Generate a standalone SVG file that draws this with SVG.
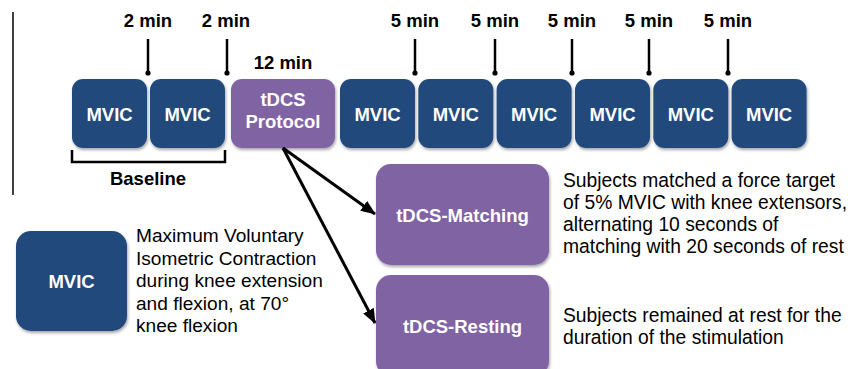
<svg xmlns="http://www.w3.org/2000/svg" width="848" height="369" viewBox="0 0 848 369">
<defs>
<filter id="sh" x="-10%" y="-10%" width="130%" height="130%">
<feDropShadow dx="1" dy="2" stdDeviation="1.5" flood-color="#000" flood-opacity="0.35"/>
</filter>
<marker id="ah" markerWidth="15" markerHeight="12" refX="14" refY="6" orient="auto" markerUnits="userSpaceOnUse" viewBox="0 0 15 12">
<path d="M0,0 L15,6 L0,12 Z" fill="#000"/>
</marker>
</defs>
<style>
.blue{fill:#214A7C;filter:url(#sh)}
.purple{fill:#8064A2;filter:url(#sh)}
.bt{font-family:"Liberation Sans",Arial,sans-serif;font-weight:bold;font-size:18.5px;fill:#fff;text-anchor:middle}
.lab{font-family:"Liberation Sans",Arial,sans-serif;font-weight:bold;font-size:18.5px;fill:#000;text-anchor:middle}
.desc{font-family:"Liberation Sans",Arial,sans-serif;font-size:19.3px;fill:#000}
.ldesc{font-family:"Liberation Sans",Arial,sans-serif;font-size:19.1px;fill:#000}
.tick{stroke:#000;stroke-width:2.5;fill:none}
.conn{stroke:#000;stroke-width:3;fill:none}
</style>
<rect width="848" height="369" fill="#fff"/>
<line x1="13" y1="12" x2="13" y2="195" stroke="#000" stroke-width="1.5"/>

<g id="timeline-labels">
<text class="lab" x="148" y="27">2 min</text>
<text class="lab" x="226" y="27">2 min</text>
<text class="lab" x="283" y="69">12 min</text>
<text class="lab" x="415" y="27">5 min</text>
<text class="lab" x="495" y="27">5 min</text>
<text class="lab" x="572" y="27">5 min</text>
<text class="lab" x="649" y="27">5 min</text>
<text class="lab" x="728" y="27">5 min</text>
</g>

<g id="ticks">
<line class="tick" x1="148" y1="39" x2="148" y2="72"/><circle cx="148" cy="73" r="2.6"/>
<line class="tick" x1="227" y1="39" x2="227" y2="72"/><circle cx="227" cy="73" r="2.6"/>
<line class="tick" x1="415" y1="39" x2="415" y2="72"/><circle cx="415" cy="73" r="2.6"/>
<line class="tick" x1="495" y1="39" x2="495" y2="72"/><circle cx="495" cy="73" r="2.6"/>
<line class="tick" x1="572" y1="39" x2="572" y2="72"/><circle cx="572" cy="73" r="2.6"/>
<line class="tick" x1="649" y1="39" x2="649" y2="72"/><circle cx="649" cy="73" r="2.6"/>
<line class="tick" x1="728" y1="39" x2="728" y2="72"/><circle cx="728" cy="73" r="2.6"/>
</g>

<g id="mvic1"><rect class="blue" x="72" y="79" width="75" height="69" rx="11"/><text class="bt" x="109.5" y="121">MVIC</text></g>
<g id="mvic2"><rect class="blue" x="150" y="79" width="75" height="69" rx="11"/><text class="bt" x="187.5" y="121">MVIC</text></g>
<g id="tdcs-protocol"><rect class="purple" x="231" y="79" width="104" height="69" rx="11"/><text class="bt" x="283" y="106">tDCS</text><text class="bt" x="283" y="128">Protocol</text></g>
<g id="mvic3"><rect class="blue" x="340" y="79" width="75" height="69" rx="11"/><text class="bt" x="377.5" y="121">MVIC</text></g>
<g id="mvic4"><rect class="blue" x="418.3" y="79" width="75" height="69" rx="11"/><text class="bt" x="455.8" y="121">MVIC</text></g>
<g id="mvic5"><rect class="blue" x="496.6" y="79" width="75" height="69" rx="11"/><text class="bt" x="534.1" y="121">MVIC</text></g>
<g id="mvic6"><rect class="blue" x="575" y="79" width="75" height="69" rx="11"/><text class="bt" x="612.5" y="121">MVIC</text></g>
<g id="mvic7"><rect class="blue" x="653.3" y="79" width="75" height="69" rx="11"/><text class="bt" x="690.8" y="121">MVIC</text></g>
<g id="mvic8"><rect class="blue" x="731.6" y="79" width="75" height="69" rx="11"/><text class="bt" x="769.1" y="121">MVIC</text></g>

<g id="baseline">
<path class="tick" d="M72,150 V162 H225 V150"/>
<text class="lab" x="148" y="185">Baseline</text>
</g>

<g id="connectors">
<line class="conn" x1="283" y1="148" x2="375" y2="214" marker-end="url(#ah)"/>
<line class="conn" x1="283" y1="148" x2="375" y2="323" marker-end="url(#ah)"/>
</g>

<g id="tdcs-matching"><rect class="purple" x="376" y="164" width="173" height="101" rx="15"/><text class="bt" x="462.5" y="222">tDCS-Matching</text></g>
<g id="tdcs-resting"><rect class="purple" x="376" y="275" width="173" height="101" rx="15"/><text class="bt" x="462.5" y="333">tDCS-Resting</text></g>

<g id="matching-desc">
<text class="desc" x="563" y="187">Subjects matched a force target</text>
<text class="desc" x="563" y="209">of 5% MVIC with knee extensors,</text>
<text class="desc" x="563" y="231">alternating 10 seconds of</text>
<text class="desc" x="563" y="253">matching with 20 seconds of rest</text>
</g>
<g id="resting-desc">
<text class="desc" x="563" y="322">Subjects remained at rest for the</text>
<text class="desc" x="563" y="344">duration of the stimulation</text>
</g>

<g id="legend-mvic"><rect class="blue" x="16" y="231" width="111" height="100" rx="15"/><text class="bt" x="71.5" y="288">MVIC</text></g>
<g id="legend-desc">
<text class="ldesc" x="136" y="242">Maximum Voluntary</text>
<text class="ldesc" x="136" y="264.5">Isometric Contraction</text>
<text class="ldesc" x="136" y="287">during knee extension</text>
<text class="ldesc" x="136" y="309.5">and flexion, at 70°</text>
<text class="ldesc" x="136" y="332">knee flexion</text>
</g>
</svg>
